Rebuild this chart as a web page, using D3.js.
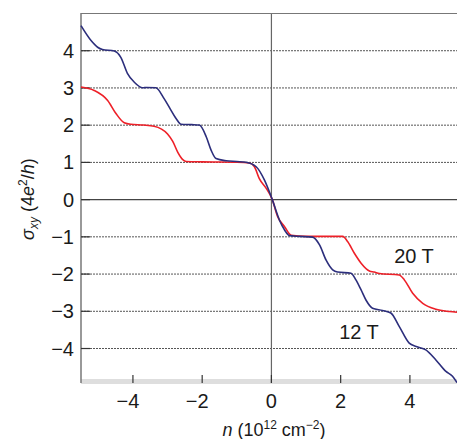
<!DOCTYPE html>
<html>
<head>
<meta charset="utf-8">
<script src="https://cdn.jsdelivr.net/npm/d3@7"></script>
<style>
  body { margin: 0; background: #fff; }
  svg { display: block; }
  text { font-family: "Liberation Sans Narrow", "Liberation Sans", Arial, sans-serif; fill: #1a1a1a; }
</style>
</head>
<body>
<div id="chart"></div>
<script>
// carrier density n (10^12 cm^-2) and sigma_xy (4e^2/h)
let n12 = [-5.5, -5.21, -5.02, -4.88, -4.54, -4.35, -4.16, -3.96, -3.72, -3.6, -3.34, -3.1, -2.94, -2.75, -2.61,
           -2.3, -2.08, -1.88, -1.74, -1.6, -1.31, -1.0, -0.73, -0.44, -0.2, 0.02, 0.23, 0.38, 0.52, 0.8, 1.19,
           1.39, 1.58, 1.77, 1.91, 2.3, 2.44, 2.59, 2.73, 2.92, 3.21, 3.45, 3.69, 3.98, 4.18, 4.46, 4.75, 5.04, 5.23, 5.36];
let sig12 = [4.66, 4.26, 4.08, 4.02, 3.98, 3.81, 3.38, 3.14, 2.99, 3.0, 2.99, 2.7, 2.45, 2.16, 2.01,
             2.0, 1.99, 1.67, 1.31, 1.09, 1.03, 1.01, 0.99, 0.87, 0.51, 0, -0.56, -0.83, -0.98, -1.0, -1.02,
             -1.23, -1.64, -1.9, -1.96, -1.99, -2.17, -2.44, -2.71, -2.93, -2.99, -3.06, -3.42, -3.87, -3.96, -4.05, -4.32, -4.63, -4.76, -4.93];

let n20 = [-5.5, -5.12, -4.73, -4.49, -4.25, -4.06, -3.7, -3.39, -3.0, -2.85, -2.7, -2.56, -2.46, -2.0, -1.0, -0.63,
           -0.49, -0.35, -0.15, 0.02, 0.18, 0.38, 0.57, 1.0, 2.06, 2.2, 2.4, 2.59, 2.83, 2.97, 3.12, 3.69, 3.84,
           4.08, 4.37, 4.75, 5.14, 5.36];
let sig20 = [3.01, 2.92, 2.65, 2.30, 2.05, 2.01, 1.99, 1.96, 1.75, 1.55, 1.25, 1.06, 1.01, 1.0, 0.99, 0.97,
             0.87, 0.55, 0.29, 0, -0.47, -0.74, -0.97, -1.0, -1.0, -1.14, -1.46, -1.72, -1.93, -1.96, -2.0, -2.04, -2.17,
             -2.53, -2.8, -2.96, -3.02, -3.04];

let xTicks = [-4, -2, 0, 2, 4];
let yTicks = [-4, -3, -2, -1, 0, 1, 2, 3, 4];
let curveLabels = ["20 T", "12 T"];

let W = 457, H = 439;
let mL = 81, mR = 457, mT = 13, mB = 383;

let svg = d3.select("#chart").append("svg")
  .attr("width", W)
  .attr("height", H);

let x = d3.scaleLinear().domain([-5.5, 5.36]).range([mL, mR]);
let y = d3.scaleLinear().domain([-4.94, 5]).range([mB, mT]);

let fmt = v => (v < 0 ? "\u2212" : "") + Math.abs(v);

// bottom grey strip
svg.append("rect")
  .attr("x", mL).attr("y", mB - 4)
  .attr("width", mR - mL).attr("height", 5)
  .attr("fill", "#dedede");

// dashed grid lines
svg.append("g").selectAll("line")
  .data(yTicks.filter(d => d != 0))
  .enter().append("line")
    .attr("x1", mL).attr("x2", mR)
    .attr("y1", d => y(d) + 0.5).attr("y2", d => y(d) + 0.5)
    .attr("stroke", "#555")
    .attr("stroke-width", 1)
    .attr("stroke-dasharray", "2,1");

// zero lines
svg.append("line")
  .attr("x1", mL).attr("x2", mR)
  .attr("y1", y(0) + 0.5).attr("y2", y(0) + 0.5)
  .attr("stroke", "#444").attr("stroke-width", 1.2);
svg.append("line")
  .attr("x1", x(0)).attr("x2", x(0))
  .attr("y1", mT).attr("y2", mB)
  .attr("stroke", "#666").attr("stroke-width", 1.2);

// frame: top and left
svg.append("line")
  .attr("x1", mL).attr("x2", mR)
  .attr("y1", mT + 0.5).attr("y2", mT + 0.5)
  .attr("stroke", "#777").attr("stroke-width", 1.2);
svg.append("line")
  .attr("x1", mL).attr("x2", mL)
  .attr("y1", mT).attr("y2", mB)
  .attr("stroke", "#777").attr("stroke-width", 1.5);

// y ticks (inward) and labels
let yAxis = svg.append("g");
yAxis.selectAll("line")
  .data(yTicks)
  .enter().append("line")
    .attr("x1", mL).attr("x2", mL + 9)
    .attr("y1", d => y(d) + 0.5).attr("y2", d => y(d) + 0.5)
    .attr("stroke", "#333").attr("stroke-width", 1.2);
yAxis.selectAll("text")
  .data(yTicks)
  .enter().append("text")
    .attr("x", 74)
    .attr("y", d => y(d) + 7.5)
    .attr("text-anchor", "end")
    .style("font-size", "20px")
    .text(fmt);

// x ticks (inward from the bottom strip) and labels
let xAxis = svg.append("g");
xAxis.selectAll("line")
  .data(xTicks)
  .enter().append("line")
    .attr("x1", d => x(d)).attr("x2", d => x(d))
    .attr("y1", mB - 8).attr("y2", mB)
    .attr("stroke", "#333").attr("stroke-width", 1.2);
xAxis.selectAll("text")
  .data(xTicks)
  .enter().append("text")
    .attr("x", d => x(d) - (d < 0 ? 5 : 0))
    .attr("y", 408)
    .attr("text-anchor", "middle")
    .style("font-size", "20px")
    .text(fmt);

// curves
let line = d3.line()
  .x(d => x(d[0]))
  .y(d => y(d[1]))
  .curve(d3.curveMonotoneX);

let plot = svg.append("g");
plot.append("path")
  .datum(d3.zip(n20, sig20))
  .attr("d", line)
  .attr("fill", "none")
  .attr("stroke", "#ee2028")
  .attr("stroke-width", 1.6);
plot.append("path")
  .datum(d3.zip(n12, sig12))
  .attr("d", line)
  .attr("fill", "none")
  .attr("stroke", "#2c2e7c")
  .attr("stroke-width", 1.6);

// curve labels
svg.append("text")
  .attr("x", 414).attr("y", 263)
  .attr("text-anchor", "middle")
  .style("font-size", "20px")
  .text(curveLabels[0]);
svg.append("text")
  .attr("x", 359).attr("y", 339)
  .attr("text-anchor", "middle")
  .style("font-size", "20px")
  .text(curveLabels[1]);

// axis titles
let yt = svg.append("text")
  .attr("transform", "translate(34," + y(0) + ") rotate(-90)")
  .attr("text-anchor", "middle")
  .style("font-size", "18px");
yt.append("tspan").style("font-style", "italic").text("σ");
yt.append("tspan").style("font-style", "italic").style("font-size", "12px").attr("dy", 4).text("xy");
yt.append("tspan").attr("dy", -4).text(" (4");
yt.append("tspan").style("font-style", "italic").text("e");
yt.append("tspan").style("font-size", "12px").attr("dy", -7).text("2");
yt.append("tspan").attr("dy", 7).text("/");
yt.append("tspan").style("font-style", "italic").text("h");
yt.append("tspan").text(")");

let xt = svg.append("text")
  .attr("x", 274).attr("y", 436)
  .attr("text-anchor", "middle")
  .style("font-size", "18px");
xt.append("tspan").style("font-style", "italic").text("n");
xt.append("tspan").text(" (10");
xt.append("tspan").style("font-size", "12px").attr("dy", -7).text("12");
xt.append("tspan").attr("dy", 7).text(" cm");
xt.append("tspan").style("font-size", "12px").attr("dy", -7).text("\u2212" + "2");
xt.append("tspan").attr("dy", 7).text(")");
</script>
</body>
</html>
